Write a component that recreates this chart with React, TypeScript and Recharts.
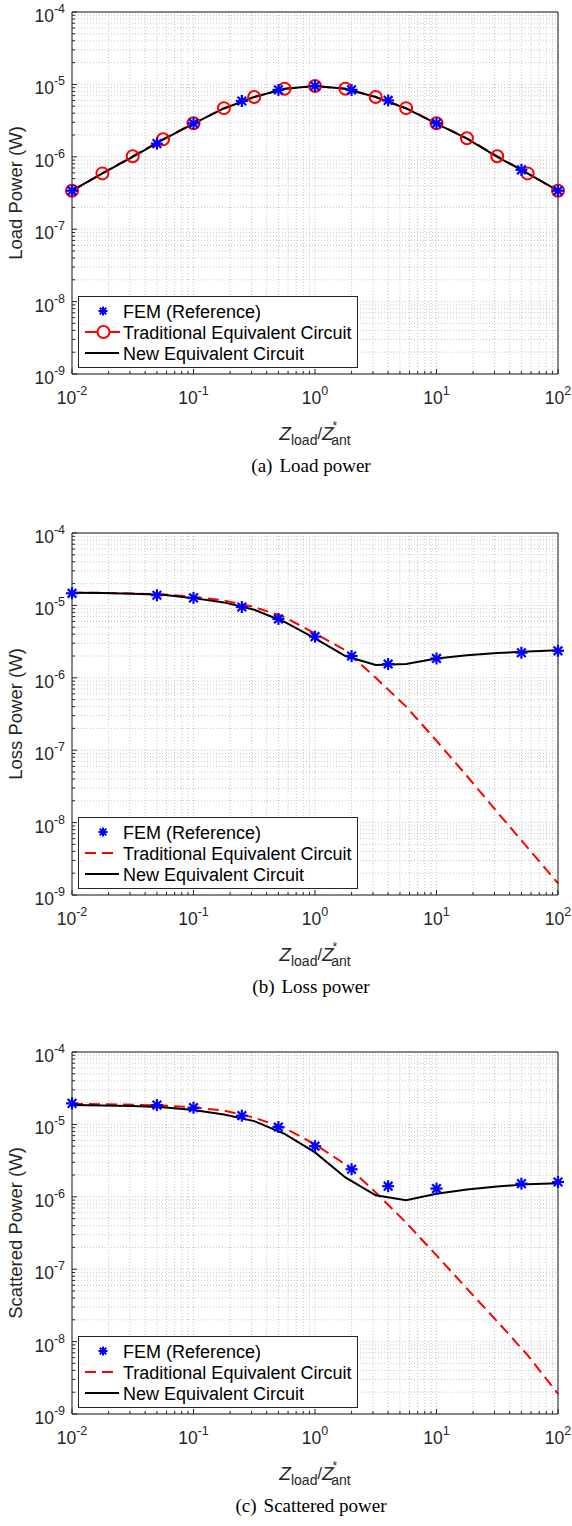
import React from 'react';
import { ComposedChart, Line, XAxis, YAxis, CartesianGrid, Legend } from 'recharts';

// ---------- data ----------
const xDense = [0.01, 0.0178, 0.0316, 0.0562, 0.1, 0.178, 0.316, 0.562, 1, 1.78, 3.16, 5.62, 10, 17.8, 31.6, 56.2, 100];
const xFem = [0.01, 0.05, 0.1, 0.25, 0.5, 1, 2, 4, 10, 50, 100];

const loadFem = [3.4e-7, 1.52e-6, 2.9e-6, 5.9e-6, 8.4e-6, 9.5e-6, 8.4e-6, 6.0e-6, 2.9e-6, 6.6e-7, 3.4e-7];
const loadTrad = [3.4e-7, 5.9e-7, 1.02e-6, 1.75e-6, 2.9e-6, 4.7e-6, 6.7e-6, 8.7e-6, 9.5e-6, 8.7e-6, 6.7e-6, 4.7e-6, 2.9e-6, 1.8e-6, 1.02e-6, 5.9e-7, 3.4e-7];
const loadNew = [3.4e-7, 5.9e-7, 1.0e-6, 1.73e-6, 2.88e-6, 4.65e-6, 6.7e-6, 8.7e-6, 9.5e-6, 8.7e-6, 6.7e-6, 4.65e-6, 2.88e-6, 1.78e-6, 1.0e-6, 5.9e-7, 3.4e-7];

const lossFem = [1.47e-5, 1.38e-5, 1.27e-5, 9.5e-6, 6.5e-6, 3.7e-6, 2.0e-6, 1.55e-6, 1.85e-6, 2.22e-6, 2.36e-6];
const lossTrad = [1.5e-5, 1.49e-5, 1.46e-5, 1.42e-5, 1.32e-5, 1.17e-5, 9.5e-6, 6.9e-6, 4.1e-6, 2.4e-6, 1.0e-6, 4.0e-7, 1.35e-7, 4.4e-8, 1.4e-8, 4.5e-9, 1.45e-9];
const lossNew = [1.5e-5, 1.48e-5, 1.45e-5, 1.4e-5, 1.26e-5, 1.1e-5, 8.7e-6, 5.9e-6, 3.5e-6, 2.0e-6, 1.5e-6, 1.55e-6, 1.85e-6, 2.05e-6, 2.2e-6, 2.3e-6, 2.4e-6];

const scatFem = [1.95e-5, 1.85e-5, 1.7e-5, 1.32e-5, 9.2e-6, 5.0e-6, 2.4e-6, 1.4e-6, 1.3e-6, 1.52e-6, 1.6e-6];
const scatTrad = [1.92e-5, 1.9e-5, 1.87e-5, 1.82e-5, 1.72e-5, 1.55e-5, 1.24e-5, 8.9e-6, 5.3e-6, 2.8e-6, 1.15e-6, 4.4e-7, 1.55e-7, 5.4e-8, 1.9e-8, 6.5e-9, 1.9e-9];
const scatNew = [1.85e-5, 1.83e-5, 1.8e-5, 1.72e-5, 1.58e-5, 1.37e-5, 1.11e-5, 7.4e-6, 4.1e-6, 1.85e-6, 1.05e-6, 9.0e-7, 1.1e-6, 1.26e-6, 1.39e-6, 1.49e-6, 1.54e-6];

const xMajorTicks = [0.01, 0.1, 1, 10, 100];
const yMajorTicks = [1e-9, 1e-8, 1e-7, 1e-6, 1e-5, 1e-4];
const minorMultipliers = [2, 3, 4, 5, 6, 7, 8, 9];
const seriesNames = ['FEM (Reference)', 'Traditional Equivalent Circuit', 'New Equivalent Circuit'];

// ---------- helpers ----------
function withMinors(majors: number[]) {
  const out: number[] = [];
  for (let i = 0; i < majors.length; i++) {
    out.push(majors[i]);
    if (i < majors.length - 1) minorMultipliers.forEach((m) => out.push(m * majors[i]));
  }
  return out;
}
const xAllTicks = withMinors(xMajorTicks);
const yAllTicks = withMinors(yMajorTicks);

const zip = (xs: number[], ys: number[]) => xs.map((x, i) => ({ x, y: ys[i] }));
const isMajor = (v: number) => {
  const l = Math.log10(v);
  return Math.abs(l - Math.round(l)) < 1e-9;
};

const INK = '#262626';
const FONT = '"Liberation Sans", Arial, Helvetica, sans-serif';
const SERIF = '"Liberation Serif", "Times New Roman", Times, serif';
const BLUE = '#0000ff';
const RED = '#ff0000';
const DASH = '11 6';

// ---------- ticks ----------
function BottomTick(props: any) {
  const { x, y, payload } = props;
  const v = payload.value;
  const major = isMajor(v);
  const e = Math.round(Math.log10(v));
  return (
    <g>
      <line x1={x} x2={x} y1={y} y2={y - (major ? 5 : 3)} stroke={INK} strokeWidth={1} />
      {major && (
        <text x={x} y={y + 30} textAnchor="middle" fontFamily={FONT} fontSize={17.5} fill={INK}>
          10<tspan dy={-9} fontSize={12.5}>{String(e)}</tspan>
        </text>
      )}
    </g>
  );
}
function TopTick(props: any) {
  const { x, y, payload } = props;
  const major = isMajor(payload.value);
  return <line x1={x} x2={x} y1={y} y2={y + (major ? 5 : 3)} stroke={INK} strokeWidth={1} />;
}
function LeftTick(props: any) {
  const { x, y, payload } = props;
  const v = payload.value;
  const major = isMajor(v);
  const e = Math.round(Math.log10(v));
  return (
    <g>
      <line x1={x} x2={x + (major ? 5 : 3)} y1={y} y2={y} stroke={INK} strokeWidth={1} />
      {major && (
        <text x={x - 7} y={y + 10} textAnchor="end" fontFamily={FONT} fontSize={17.5} fill={INK}>
          10<tspan dy={-9} fontSize={12.5}>{String(e)}</tspan>
        </text>
      )}
    </g>
  );
}
function RightTick(props: any) {
  const { x, y, payload } = props;
  const major = isMajor(payload.value);
  return <line x1={x} x2={x - (major ? 5 : 3)} y1={y} y2={y} stroke={INK} strokeWidth={1} />;
}

// ---------- markers ----------
function Asterisk({ cx, cy, s = 6, w = 2.2 }: { cx: number; cy: number; s?: number; w?: number }) {
  const d = s * 0.72;
  return (
    <g stroke={BLUE} strokeWidth={w} strokeLinecap="butt">
      <line x1={cx - s} x2={cx + s} y1={cy} y2={cy} />
      <line x1={cx} x2={cx} y1={cy - s} y2={cy + s} />
      <line x1={cx - d} x2={cx + d} y1={cy - d} y2={cy + d} />
      <line x1={cx - d} x2={cx + d} y1={cy + d} y2={cy - d} />
    </g>
  );
}
const asteriskDot = (p: any) => <Asterisk key={`a-${p.index}`} cx={p.cx} cy={p.cy} />;
const circleDot = (p: any) => (
  <circle key={`c-${p.index}`} cx={p.cx} cy={p.cy} r={6} stroke={RED} strokeWidth={2} fill="none" />
);

// ---------- legend ----------
function LegendBox({ circles }: { circles: boolean }) {
  const rows = [15, 36, 57];
  return (
    <svg width={280} height={72} style={{ display: 'block' }}>
      <rect x={0.5} y={0.5} width={279} height={71} fill="#fff" stroke={INK} strokeWidth={1} />
      <Asterisk cx={25} cy={rows[0]} s={4.5} w={2} />
      {circles ? (
        <g>
          <line x1={7} x2={19} y1={rows[1]} y2={rows[1]} stroke={RED} strokeWidth={2} />
          <line x1={32} x2={42} y1={rows[1]} y2={rows[1]} stroke={RED} strokeWidth={2} />
          <circle cx={25.5} cy={rows[1]} r={6} stroke={RED} strokeWidth={2} fill="none" />
        </g>
      ) : (
        <line x1={7} x2={41} y1={rows[1]} y2={rows[1]} stroke={RED} strokeWidth={2} strokeDasharray={DASH} />
      )}
      <line x1={7} x2={41} y1={rows[2]} y2={rows[2]} stroke="#000" strokeWidth={2} />
      {seriesNames.map((n, i) => (
        <text key={n} x={45} y={rows[i] + 6.5} fontFamily={FONT} fontSize={18} fill="#000">
          {n}
        </text>
      ))}
    </svg>
  );
}

// ---------- labels ----------
function XLabel({ viewBox, caption, tag }: any) {
  const vb = viewBox || { x: 72, y: 374, width: 486, height: 90 };
  const cx = vb.x + vb.width / 2;
  const y = vb.y + 66;
  return (
    <g>
      <text x={cx} y={y} textAnchor="middle" fontFamily={FONT} fill={INK}>
        <tspan fontStyle="italic" fontSize={19}>Z</tspan>
        <tspan fontSize={14} dy={5}>load</tspan>
        <tspan fontSize={16} dy={-6}>/</tspan>
        <tspan fontStyle="italic" fontSize={19} dy={1}>Z</tspan>
        <tspan fontSize={12} dy={-10} dx={-1}>*</tspan>
        <tspan fontSize={14} dy={15} dx={-6}>ant</tspan>
      </text>
      <text x={cx - 4} y={vb.y + 98} textAnchor="middle" fontFamily={SERIF} fontSize={19} fill="#000">
        {tag}
        <tspan dx={7}>{caption}</tspan>
      </text>
    </g>
  );
}

function YLabel({ viewBox, text }: any) {
  const vb = viewBox || { x: 0, y: 12, width: 72, height: 362 };
  const cy = vb.y + vb.height / 2;
  const x = 22;
  return (
    <text
      x={x}
      y={cy}
      textAnchor="middle"
      transform={`rotate(-90, ${x}, ${cy})`}
      fontFamily={FONT}
      fontSize={18.5}
      fill={INK}
    >
      {text}
    </text>
  );
}

// ---------- chart ----------
function PowerChart({
  yLabel,
  tag,
  caption,
  fem,
  trad,
  neu,
  circles,
}: {
  yLabel: string;
  tag: string;
  caption: string;
  fem: number[];
  trad: number[];
  neu: number[];
  circles: boolean;
}) {
  return (
    <ComposedChart width={572} height={480} margin={{ top: 11, right: 13, bottom: 16, left: 0 }}>
      <CartesianGrid stroke="#c6c6c6" strokeDasharray="1 2" strokeWidth={1} />
      <CartesianGrid xAxisId="maj" yAxisId="maj" stroke="#dcdcdc" strokeWidth={1} />
      <XAxis
        dataKey="x"
        type="number"
        scale="log"
        domain={[0.01, 100]}
        ticks={xAllTicks}
        interval={0}
        height={90}
        tickSize={0}
        tickMargin={0}
        tickLine={false}
        tick={BottomTick}
        axisLine={{ stroke: INK, strokeWidth: 1 }}
        label={(p: any) => <XLabel viewBox={p.viewBox} caption={caption} tag={tag} />}
      />
      <XAxis
        xAxisId="t"
        orientation="top"
        dataKey="x"
        type="number"
        scale="log"
        domain={[0.01, 100]}
        ticks={xAllTicks}
        interval={0}
        height={1}
        tickSize={0}
        tickMargin={0}
        tickLine={false}
        tick={TopTick}
        axisLine={{ stroke: INK, strokeWidth: 1 }}
      />
      <XAxis xAxisId="maj" hide dataKey="x" type="number" scale="log" domain={[0.01, 100]} ticks={xMajorTicks} interval={0} />
      <YAxis
        type="number"
        scale="log"
        domain={[1e-9, 1e-4]}
        ticks={yAllTicks}
        interval={0}
        width={72}
        tickSize={0}
        tickMargin={0}
        tickLine={false}
        tick={LeftTick}
        axisLine={{ stroke: INK, strokeWidth: 1 }}
        label={(p: any) => <YLabel viewBox={p.viewBox} text={yLabel} />}
      />
      <YAxis
        yAxisId="r"
        orientation="right"
        type="number"
        scale="log"
        domain={[1e-9, 1e-4]}
        ticks={yAllTicks}
        interval={0}
        width={1}
        tickSize={0}
        tickMargin={0}
        tickLine={false}
        tick={RightTick}
        axisLine={{ stroke: INK, strokeWidth: 1 }}
      />
      <YAxis yAxisId="maj" hide type="number" scale="log" domain={[1e-9, 1e-4]} ticks={yMajorTicks} interval={0} />
      <Line
        data={zip(xDense, trad)}
        dataKey="y"
        name={seriesNames[1]}
        stroke={RED}
        strokeWidth={2}
        strokeDasharray={DASH}
        dot={circles ? circleDot : false}
        activeDot={false}
        isAnimationActive={false}
      />
      <Line
        data={zip(xDense, neu)}
        dataKey="y"
        name={seriesNames[2]}
        stroke="#000"
        strokeWidth={2}
        dot={false}
        activeDot={false}
        isAnimationActive={false}
      />
      <Line
        data={zip(xFem, fem)}
        dataKey="y"
        name={seriesNames[0]}
        stroke="none"
        dot={asteriskDot}
        activeDot={false}
        isAnimationActive={false}
      />
      <Legend
        layout="vertical"
        align="center"
        verticalAlign="middle"
        wrapperStyle={{ left: 78, top: 296, width: 280, height: 72 }}
        content={() => <LegendBox circles={circles} />}
      />
    </ComposedChart>
  );
}

export default function App() {
  return (
    <div style={{ position: 'absolute', left: 0, top: 0, width: 572, height: 1526, background: '#fff', overflow: 'hidden' }}>
      <div style={{ position: 'absolute', left: 0, top: 0 }}>
        <PowerChart yLabel="Load Power (W)" tag="(a)" caption="Load power" fem={loadFem} trad={loadTrad} neu={loadNew} circles={true} />
      </div>
      <div style={{ position: 'absolute', left: 0, top: 521 }}>
        <PowerChart yLabel="Loss Power (W)" tag="(b)" caption="Loss power" fem={lossFem} trad={lossTrad} neu={lossNew} circles={false} />
      </div>
      <div style={{ position: 'absolute', left: 0, top: 1040 }}>
        <PowerChart yLabel="Scattered Power (W)" tag="(c)" caption="Scattered power" fem={scatFem} trad={scatTrad} neu={scatNew} circles={false} />
      </div>
    </div>
  );
}
